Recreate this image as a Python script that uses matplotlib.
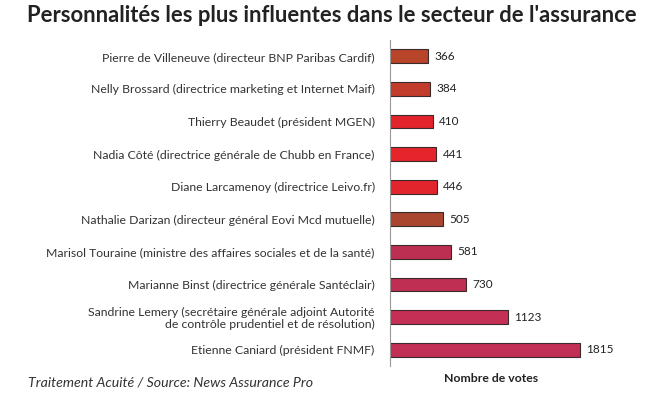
import matplotlib.pyplot as plt

names = [
    "Pierre de Villeneuve (directeur BNP Paribas Cardif)",
    "Nelly Brossard (directrice marketing et Internet Maif)",
    "Thierry Beaudet (président MGEN)",
    "Nadia Côté (directrice générale de Chubb en France)",
    "Diane Larcamenoy (directrice Leivo.fr)",
    "Nathalie Darizan (directeur général Eovi Mcd mutuelle)",
    "Marisol Touraine (ministre des affaires sociales et de la santé)",
    "Marianne Binst (directrice générale Santéclair)",
    "Sandrine Lemery (secrétaire générale adjoint Autorité\nde contrôle prudentiel et de résolution)",
    "Etienne Caniard (président FNMF)",
]
votes = [366, 384, 410, 441, 446, 505, 581, 730, 1123, 1815]
colors = ["#b8442a", "#c23c2c", "#e3232b", "#e5242c", "#e2242d",
          "#a8462f", "#bd2f52", "#be2f53", "#c42f55", "#c22f56"]

plt.rcParams['font.family'] = ['Lato', 'DejaVu Sans']

fig = plt.figure(figsize=(6.5, 4.0), dpi=100)
ax = fig.add_axes([0.6, 0.085, 0.38, 0.815])

y = list(range(len(votes)))
ax.barh(y, votes, height=0.42, color=colors, edgecolor="#3a2a2a", linewidth=0.8)
for yi, v in zip(y, votes):
    ax.text(v + 60, yi, str(v), va='center', ha='left', fontsize=8.5, color="#222222")

ax.set_xlim(0, 2360)
ax.set_ylim(len(votes) - 0.5, -0.5)
ax.set_yticks(y)
ax.set_yticklabels(names, fontsize=8.8, color="#333333", linespacing=1.1)
ax.tick_params(axis='y', length=0, pad=11)
ax.set_xticks([])
for s in ['top', 'right', 'bottom']:
    ax.spines[s].set_visible(False)
ax.spines['left'].set_color("#999999")

fig.text(0.51, 0.96, "Personnalités les plus influentes dans le secteur de l'assurance",
         ha='center', va='center', fontsize=15.8, fontweight='bold', color="#222222")
fig.text(0.756, 0.055, "Nombre de votes", ha='center', va='center',
         fontsize=8.8, fontweight='bold', color="#222222")
fig.text(0.043, 0.043, "Traitement Acuité / Source: News Assurance Pro", ha='left',
         va='center', fontsize=10.2, style='italic', color="#333333")

fig.savefig("out.png", dpi=100)
